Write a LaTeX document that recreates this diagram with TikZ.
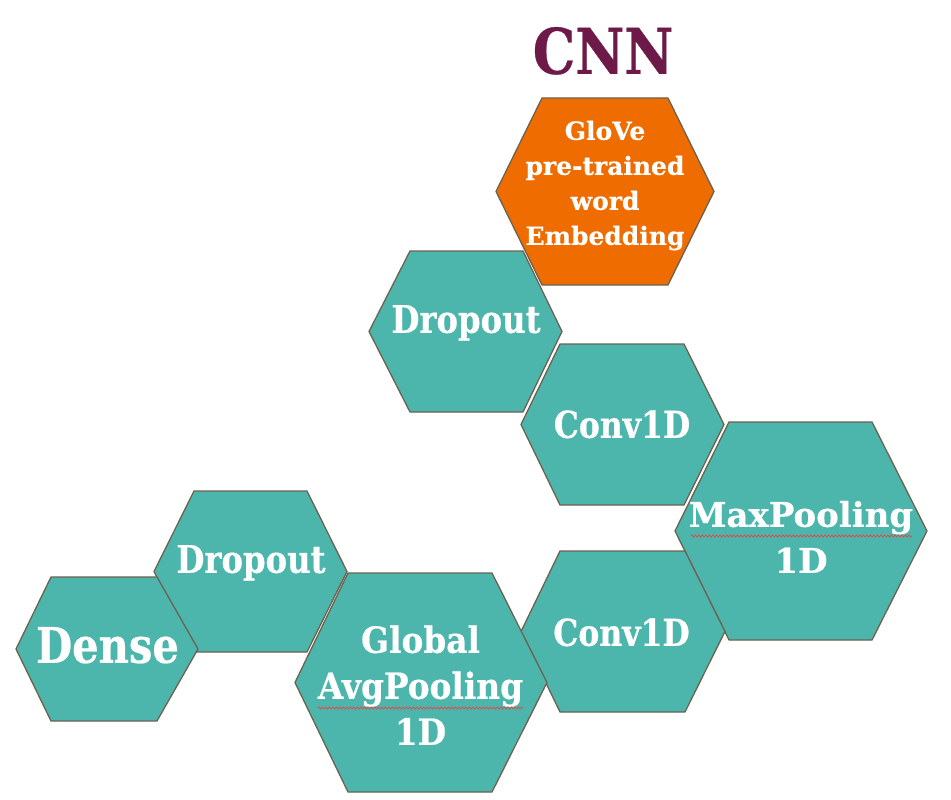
\documentclass[tikz,border=0pt]{standalone}
\usepackage{fontspec}
\newfontfamily\slab[FakeStretch=0.85,FakeBold=0.5]{DejaVu Serif}
\newfontfamily\slabm[FakeStretch=0.91,FakeBold=0.5]{DejaVu Serif}
\newfontfamily\slabw[FakeBold=0.5]{DejaVu Serif}
\usetikzlibrary{decorations.pathmorphing}
\definecolor{hexteal}{HTML}{4DB6AC}
\definecolor{hexorange}{HTML}{EF6C00}
\definecolor{hexedge}{HTML}{6B6250}
\definecolor{cnncol}{HTML}{6E1A49}
\definecolor{squigred}{HTML}{E04848}
% fill, L, TL, TR, R, top, bottom
\newcommand{\hexa}[7]{%
  \path[hexbox,fill=#1] (#2,{(#6+#7)/2}) -- (#3,#6) -- (#4,#6) -- (#5,{(#6+#7)/2}) -- (#4,#7) -- (#3,#7) -- cycle;}
\begin{document}
\begin{tikzpicture}[x=1pt,y=-1pt,
  hexbox/.style={draw=hexedge,line width=1.3pt,line join=miter},
  lbl/.style={text=white,align=center,inner sep=0pt,text depth=0pt,anchor=south},
  squig/.style={draw=squigred,line width=0.7pt,decorate,decoration={zigzag,amplitude=1.1pt,segment length=3.5pt}}]
\useasboundingbox (0,0) rectangle (951,800);
% hexagons
\hexa{hexorange}{496}{542}{668}{714}{98}{285}
\hexa{hexteal}{369}{410}{523}{562}{251}{412}
\hexa{hexteal}{521}{560}{684}{724}{344}{505}
\hexa{hexteal}{675}{729}{872}{927}{422}{640}
\hexa{hexteal}{521}{560}{685}{725}{551}{712}
\hexa{hexteal}{295}{348}{492}{547}{573}{792}
\hexa{hexteal}{154}{194}{307}{347}{491}{652}
\hexa{hexteal}{16}{51}{157}{198}{577}{721}
% labels
\node[lbl,text=cnncol,font={\slab\bfseries\fontsize{63}{70}\selectfont}] (cnn) at (603,74) {CNN};
\node[lbl,font={\slabw\bfseries\fontsize{25}{35}\selectfont}] (glove) at (605,245) {GloVe\\pre-trained\\word\\Embedding};
\node[lbl,font={\slab\bfseries\fontsize{38}{46}\selectfont}] (drop1) at (466,333) {Dropout};
\node[lbl,font={\slab\bfseries\fontsize{37}{46}\selectfont}] (conv1) at (622,438) {Conv1D};
\node[lbl,font={\slabw\bfseries\fontsize{34}{46}\selectfont}] (maxp) at (801,573) {MaxPooling\\1D};
\node[lbl,font={\slab\bfseries\fontsize{37}{46}\selectfont}] (conv2) at (621.5,646) {Conv1D};
\node[lbl,font={\slabm\bfseries\fontsize{36}{46}\selectfont}] (gavg) at (420.5,745) {Global\\AvgPooling\\1D};
\node[lbl,font={\slab\bfseries\fontsize{38}{46}\selectfont}] (drop2) at (251,573) {Dropout};
\node[lbl,font={\slab\bfseries\fontsize{49}{56}\selectfont}] (dense) at (107.5,663) {Dense};
% spell-check squiggles
\coordinate (sqa1) at (691,536); \coordinate (sqa2) at (912,536);
\coordinate (sqb1) at (318,708); \coordinate (sqb2) at (523,708);
\draw[squig] (sqa1) -- (sqa2);
\draw[squig] (sqb1) -- (sqb2);
\end{tikzpicture}
\end{document}
